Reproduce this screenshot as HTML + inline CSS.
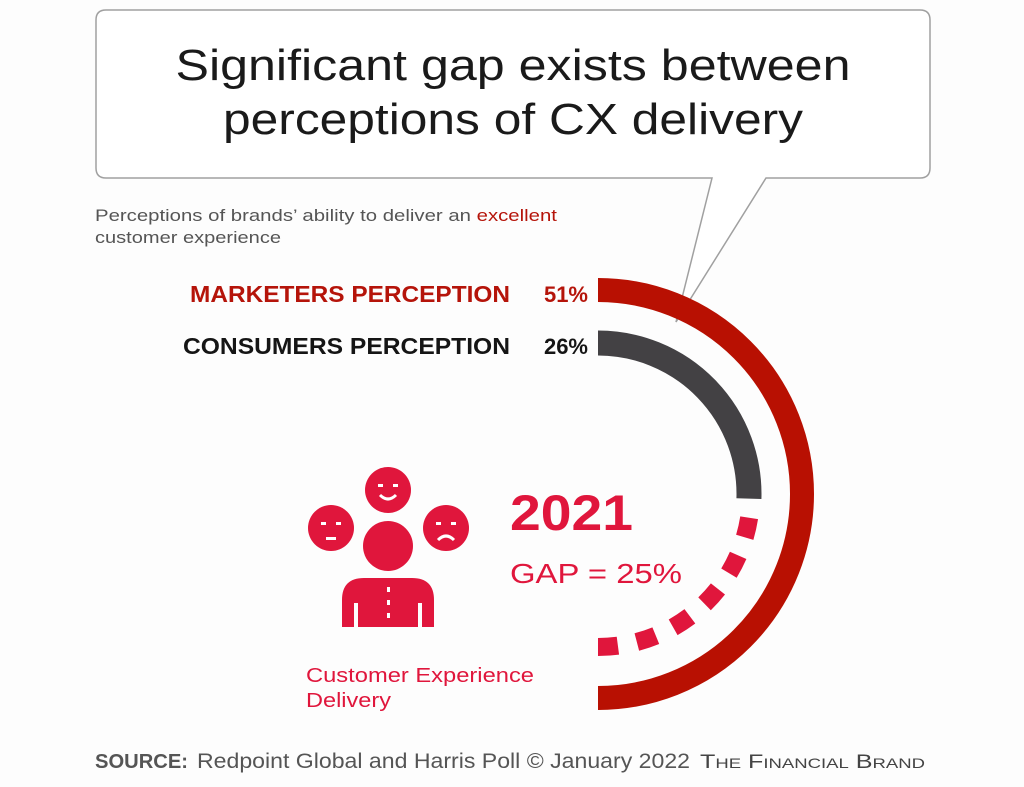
<!DOCTYPE html>
<html><head><meta charset="utf-8"><style>
html,body{margin:0;padding:0;background:#fff;}
svg{display:block;font-family:"Liberation Sans",sans-serif;}
</style></head><body>
<svg width="1024" height="787" viewBox="0 0 1024 787">
<rect width="1024" height="787" fill="#fdfdfd"/>
<g>
<path d="M106,10 H920 Q930,10 930,20 V168 Q930,178 920,178 H766 L676,322 L712,178 H106 Q96,178 96,168 V20 Q96,10 106,10 Z" fill="#fff" stroke="#a0a0a0" stroke-width="1.5"/>
<text x="513" y="80" text-anchor="middle" font-size="44" fill="#1a1a1a" textLength="675" lengthAdjust="spacingAndGlyphs">Significant gap exists between</text>
<text x="513" y="134" text-anchor="middle" font-size="44" fill="#1a1a1a" textLength="580" lengthAdjust="spacingAndGlyphs">perceptions of CX delivery</text>
</g>
<text x="95" y="221" font-size="17" fill="#555" textLength="462" lengthAdjust="spacingAndGlyphs">Perceptions of brands’ ability to deliver an <tspan fill="#b5140a">excellent</tspan></text>
<text x="95" y="243" font-size="17" fill="#555" textLength="186" lengthAdjust="spacingAndGlyphs">customer experience</text>
<text x="510" y="302" text-anchor="end" font-size="23" font-weight="bold" fill="#b5140a" textLength="320" lengthAdjust="spacingAndGlyphs">MARKETERS PERCEPTION</text>
<text x="588" y="302" text-anchor="end" font-size="22" font-weight="bold" fill="#b5140a">51%</text>
<text x="510" y="354" text-anchor="end" font-size="23" font-weight="bold" fill="#151515" textLength="327" lengthAdjust="spacingAndGlyphs">CONSUMERS PERCEPTION</text>
<text x="588" y="354" text-anchor="end" font-size="22" font-weight="bold" fill="#151515">26%</text>
<g id="arcs"></g>
<text x="510" y="530" font-size="50" font-weight="bold" fill="#e0163c" textLength="123" lengthAdjust="spacingAndGlyphs">2021</text>
<text x="510" y="583" font-size="28" fill="#e0163c" textLength="172" lengthAdjust="spacingAndGlyphs">GAP = 25%</text>
<g fill="#e0163c">
<circle cx="388" cy="490" r="23"/><circle cx="331" cy="528" r="23"/><circle cx="446" cy="528" r="23"/>
<circle cx="388" cy="546" r="25"/>
<path d="M342,627 V600 Q342,578 364,578 H412 Q434,578 434,600 V627 H422 V603 H418 V627 H358 V603 H354 V627 Z"/>
<g fill="#fff">
<rect x="378" y="484" width="5" height="3"/><rect x="393" y="484" width="5" height="3"/>
<path d="M380,495 Q388,503 396,495" stroke="#fff" stroke-width="3" fill="none"/>
<rect x="321" y="522" width="5" height="3"/><rect x="336" y="522" width="5" height="3"/><rect x="326" y="537" width="10" height="3"/>
<rect x="436" y="522" width="5" height="3"/><rect x="451" y="522" width="5" height="3"/>
<path d="M438,540 Q446,532 454,540" stroke="#fff" stroke-width="3" fill="none"/>
<rect x="387" y="587" width="3" height="5"/><rect x="387" y="600" width="3" height="5"/><rect x="387" y="613" width="3" height="5"/>
</g></g>
<text x="306" y="682" font-size="20" fill="#e0163c" textLength="228" lengthAdjust="spacingAndGlyphs">Customer Experience</text>
<text x="306" y="707" font-size="20" fill="#e0163c" textLength="85" lengthAdjust="spacingAndGlyphs">Delivery</text>
<text x="95" y="768" font-size="20" font-weight="bold" fill="#555" textLength="93" lengthAdjust="spacingAndGlyphs">SOURCE:</text>
<text x="197" y="768" font-size="21" fill="#555" textLength="493" lengthAdjust="spacingAndGlyphs">Redpoint Global and Harris Poll © January 2022</text>
<text x="700" y="768" font-size="19" fill="#444" textLength="225" lengthAdjust="spacingAndGlyphs">T<tspan font-size="14">HE</tspan> F<tspan font-size="14">INANCIAL</tspan> B<tspan font-size="14">RAND</tspan></text>
</svg>
<script>
const seriesNames = ['marketers', 'consumers'];
const seriesValues = [51, 26];
const gapValue = [25];
const cx = 598, cy = 494;
const degPerPct = 180 / 51;
function angle(p){ return p * degPerPct; }
function pt(r, a){ const t = (a - 90) * Math.PI / 180; return [cx + r * Math.cos(t), cy + r * Math.sin(t)]; }
function arc(r, a0, a1){ const s = pt(r, a0), e = pt(r, a1); const large = Math.abs(a1 - a0) > 180 ? 1 : 0; const sw = a1 > a0 ? 1 : 0; return `M${s[0]},${s[1]} A${r},${r} 0 ${large} ${sw} ${e[0]},${e[1]}`; }
const g = document.getElementById('arcs');
const NS = 'http://www.w3.org/2000/svg';
const m = document.createElementNS(NS, 'path');
m.setAttribute('d', arc(204, 0, angle(seriesValues[0])));
m.setAttribute('stroke', '#b81002'); m.setAttribute('stroke-width', '24'); m.setAttribute('fill', 'none');


g.appendChild(m);
const c = document.createElementNS(NS, 'path');
c.setAttribute('d', arc(151, 0, angle(seriesValues[1])));
c.setAttribute('stroke', '#434144'); c.setAttribute('stroke-width', '25'); c.setAttribute('fill', 'none');


g.appendChild(c);
const d = document.createElementNS(NS, 'path');
const a1 = angle(seriesValues[1] + gapValue[0]), a0 = angle(seriesValues[1]);
d.setAttribute('d', arc(153, a1, a0));
const len = 153 * (a1 - a0) * Math.PI / 180;
const dash = 20, gap = (len - 6 * dash) / 6;
d.setAttribute('stroke', '#e0163c'); d.setAttribute('stroke-width', '18'); d.setAttribute('fill', 'none');
d.setAttribute('stroke-dasharray', dash + ' ' + gap);


g.appendChild(d);
</script>
</body></html>
